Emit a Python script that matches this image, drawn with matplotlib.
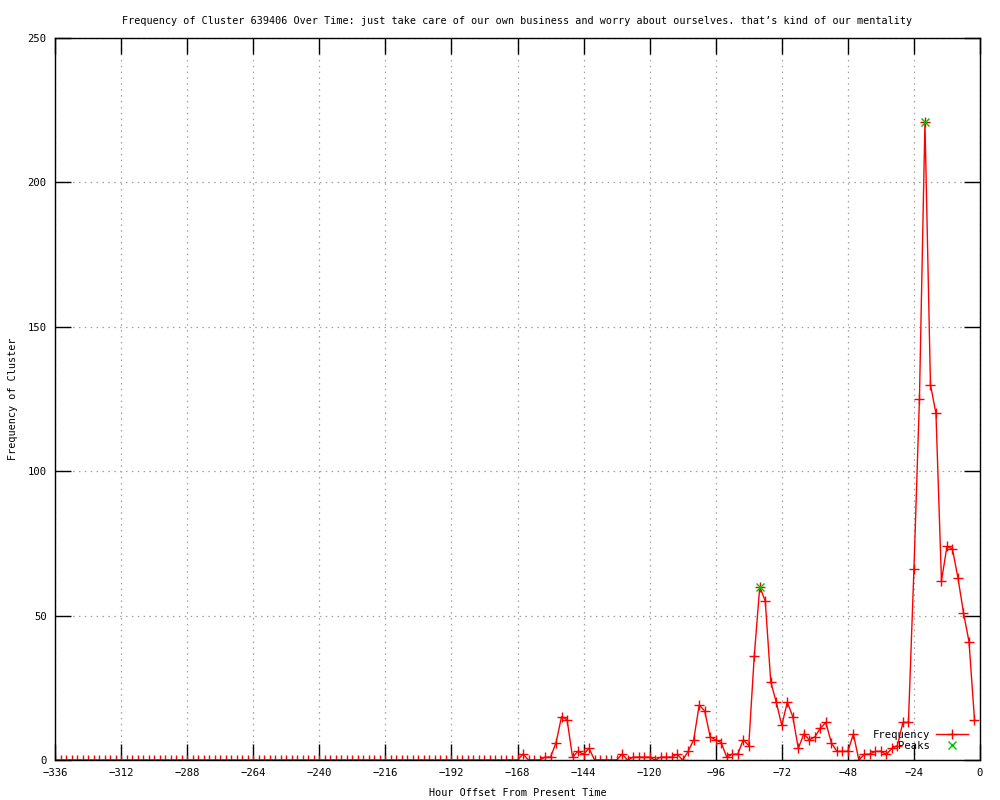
import numpy as np
import matplotlib
matplotlib.use("Agg")
import matplotlib.pyplot as plt

# samples every two hours, -336 .. -2
hours = np.arange(-336, 0, 2)

# values from -166 to -2 (everything earlier is zero)
recent = [2, 0, 0, 0, 1, 1, 6, 15, 14, 1,
          3, 2, 4, 0, 0, 0, 0, 0, 2, 0,
          1, 1, 1, 1, 0, 1, 1, 1, 2, 0,
          3, 7, 19, 17, 8, 7, 6, 1, 2, 2,
          7, 5, 36, 60, 55, 27, 20, 12, 20, 15,
          4, 9, 7, 8, 11, 13, 6, 3, 3, 3,
          9, 0, 2, 2, 3, 3, 2, 4, 5, 13,
          13, 66, 125, 221, 130, 120, 62, 74, 73, 63,
          51, 41, 14]
freq = [0] * (len(hours) - len(recent)) + recent

peak_hours = [-80, -20]
peak_values = [60, 221]

title = ("Frequency of Cluster 639406 Over Time: just take care of our own "
         "business and worry about ourselves. that\u2019s kind of our mentality")

plt.rcParams['font.family'] = ['DejaVu Sans Mono']
plt.rcParams['font.size'] = 7.3

fig = plt.figure(figsize=(10, 8), dpi=100)
ax = fig.add_axes([0.055, 0.05, 0.925, 0.9025])

ax.plot(hours, freq, color='#ff0000', lw=1, marker='+', ms=7, mew=1,
        label='Frequency')
ax.plot(peak_hours, peak_values, ls='none', color='#00c000', marker='x',
        ms=6, mew=1, label='Peaks')

ax.set_xlim(-336, 0)
ax.set_ylim(0, 250)
ax.set_xticks(np.arange(-336, 1, 24))
ax.set_yticks(np.arange(0, 251, 50))
ax.tick_params(direction='in', length=11.5, width=1, top=True, right=True,
               pad=6, labelsize=7.6)
ax.grid(True, color='#a0a0a0', ls=(0, (1.2, 3.5)), lw=0.9)
for s in ax.spines.values():
    s.set_linewidth(1)

ax.set_title(title, fontsize=7.3, pad=10)
ax.set_xlabel('Hour Offset From Present Time', va='center')
ax.set_ylabel('Frequency of Cluster', va='center')
ax.xaxis.set_label_coords(0.5, -0.046)
ax.yaxis.set_label_coords(-0.045, 0.5)

ax.legend(loc='lower right', bbox_to_anchor=(0.995, 0.002), frameon=False,
          markerfirst=False, handlelength=3.0, handletextpad=0.6,
          labelspacing=0.15, borderaxespad=0.3, fontsize=7.6)

fig.savefig('out.png', dpi=100)
